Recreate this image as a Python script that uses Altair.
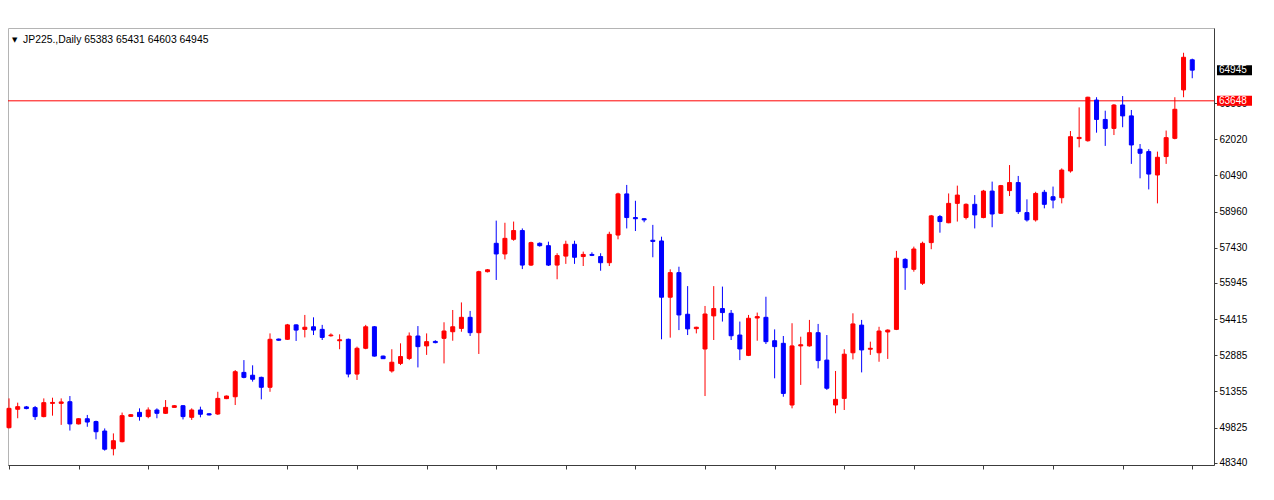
import altair as alt
import pandas as pd

# ---- Daily OHLC values (JP225, 137 sessions) ----
opens = [49820, 50600, 50700, 50670, 50290, 50850, 50850, 50920, 49980, 50200,
         50080, 49680, 48930, 49230, 50300, 50470, 50290, 50570, 50430, 50680,
         50750, 50260, 50570, 50410, 50400, 51050, 51130, 52160, 52040, 51950,
         51530, 53570, 53560, 54170, 53980, 54090, 53980, 53710, 53500, 53560,
         52090, 53180, 54090, 52850, 52220, 52540, 52750, 53700, 53280, 53470,
         53600, 53880, 54020, 54490, 53840, 56420, 57620, 57170, 57790, 58160,
         56700, 57620, 57520, 56700, 57080, 57580, 57060, 57150, 57060, 56800,
         57970, 59710, 58710, 58660, 57750, 57720, 55340, 56380, 54620, 54010,
         53150, 54550, 54860, 54660, 53740, 52880, 54460, 54490, 53500, 53390,
         50780, 53280, 53280, 53840, 52680, 50780, 51060, 52990, 54160, 53140,
         52990, 53870, 53980, 56940, 56520, 55930, 57650, 58750, 58490, 59310,
         58710, 59270, 58710, 59830, 58890, 59850, 60190, 58920, 58610, 59780,
         59590, 59550, 60680, 62050, 61960, 63680, 62860, 62480, 63470, 63010,
         61600, 61500, 60510, 61290, 62060, 64110, 65383]
highs = [51060, 50880, 50740, 50740, 51060, 51090, 51060, 51160, 50220, 50360,
         50120, 49790, 49580, 50460, 50400, 50640, 50680, 50640, 50990, 50780,
         50780, 50640, 50710, 50440, 51340, 51180, 52260, 52680, 52460, 51980,
         53810, 53590, 54210, 54190, 54590, 54490, 54170, 53810, 53770, 53590,
         53250, 54170, 54120, 52870, 53140, 53390, 53850, 54120, 53810, 53520,
         54280, 54800, 55120, 54760, 56460, 56530, 58580, 58490, 58540, 58250,
         57690, 57660, 57690, 57200, 57730, 57730, 57270, 57240, 57200, 58110,
         59760, 60090, 59420, 58680, 58400, 57900, 56520, 56630, 55810, 54090,
         54970, 55810, 55790, 54800, 54310, 54590, 54690, 55360, 53980, 53700,
         54240, 53670, 54380, 54210, 53740, 52220, 53140, 54660, 54380, 53460,
         54090, 53980, 57300, 56990, 57480, 57690, 58820, 58820, 59730, 60060,
         59310, 59660, 59880, 60230, 60090, 60930, 60470, 59480, 59800, 59880,
         60020, 60790, 62370, 63370, 63820, 63800, 63230, 63510, 63850, 63260,
         61820, 61600, 61500, 62390, 63800, 65680, 65431]
lows = [49790, 50220, 50600, 50150, 50260, 50330, 49940, 49700, 49960, 49860,
        49330, 48850, 48650, 49200, 50290, 50120, 50220, 50220, 50400, 50670,
        50170, 50150, 50260, 50340, 50360, 51030, 50780, 51910, 51770, 51020,
        51340, 53500, 53530, 53490, 53640, 53740, 53530, 53670, 53140, 51950,
        51840, 53140, 52830, 52730, 52150, 52470, 52680, 52370, 52900, 53390,
        52540, 53500, 53880, 53700, 52940, 56390, 56070, 56940, 57730, 56530,
        56660, 57480, 56660, 56100, 56750, 56750, 56660, 57080, 56460, 56660,
        57790, 58250, 58140, 58510, 57030, 53560, 53630, 53950, 53740, 53810,
        51160, 53530, 54310, 53530, 52680, 52850, 53500, 53360, 51910, 51130,
        50640, 51630, 53250, 52330, 51420, 50430, 50570, 52710, 52160, 52900,
        52610, 52730, 53950, 55650, 56420, 55860, 57370, 58070, 58470, 58540,
        58630, 58250, 58680, 58300, 58860, 59620, 58860, 58540, 58540, 59100,
        59100, 59310, 60610, 61680, 61920, 62300, 61740, 62200, 62530, 60980,
        60370, 59900, 59310, 60980, 62020, 63800, 64603]
closes = [50640, 50710, 50630, 50290, 50880, 50890, 50910, 49980, 50200, 50060,
          49650, 48910, 49270, 50330, 50370, 50290, 50570, 50430, 50680, 50750,
          50290, 50570, 50390, 50360, 51060, 51160, 52190, 51950, 51870, 51530,
          53560, 53520, 54170, 53950, 54070, 53950, 53640, 53740, 53540, 52090,
          53180, 54090, 52850, 52740, 52590, 52830, 53700, 53250, 53460, 53420,
          53910, 54090, 54490, 53840, 56420, 56500, 57170, 57830, 58160, 56700,
          57650, 57520, 56700, 57100, 57580, 57030, 57150, 57110, 56800, 58000,
          59710, 58710, 58660, 58610, 57700, 55340, 56380, 54590, 54000, 54070,
          54630, 54860, 54690, 53710, 53150, 54450, 54520, 53460, 53250, 51270,
          53280, 53330, 53840, 52660, 51490, 51020, 52930, 54210, 53110, 53180,
          53910, 53950, 56990, 56590, 57380, 57620, 58780, 58540, 59310, 59660,
          59270, 58820, 59830, 58860, 60060, 60190, 58960, 58610, 59730, 59270,
          59450, 60720, 62130, 62100, 63800, 62860, 62480, 63470, 63010, 61780,
          61430, 60550, 61260, 62090, 63290, 65490, 64945]

y_tick_values = [48340, 49825, 51355, 52885, 54415, 55945, 57430, 58960, 60490, 62020, 63550]
x_tick_values = list(range(0, 137, 8))
price_level = 63648
last_price = 64945
header_text = "JP225.,Daily  65383 65431 64603 64945"

df = pd.DataFrame({
    "i": list(range(len(opens))),
    "open": opens, "high": highs, "low": lows, "close": closes,
})
df["dir"] = ["up" if c >= o else "down" for o, c in zip(opens, closes)]

x_scale = alt.Scale(domain=[-0.115, 138.5], nice=False, zero=False, padding=0)
y_scale = alt.Scale(domain=[48243, 66728], nice=False, zero=False, padding=0)
dir_scale = alt.Scale(domain=["up", "down"], range=["#FF0000", "#0000FF"])

x_enc = alt.X("i:Q", scale=x_scale, title=None,
              axis=alt.Axis(values=x_tick_values, labels=False, grid=False, tickSize=4,
                            domainColor="#3c3c3c", tickColor="#3c3c3c", orient="bottom"))
y_enc = alt.Y("low:Q", scale=y_scale, title=None,
              axis=alt.Axis(orient="right", values=y_tick_values, grid=False, tickSize=3,
                            format="d",
                            labelFont="Liberation Sans", labelFontSize=10, labelColor="#000000",
                            domainColor="#3c3c3c", tickColor="#3c3c3c", labelPadding=2,
                            labelOverlap=False))

wicks = alt.Chart(df).mark_rule(strokeWidth=1).encode(
    x=x_enc, y=y_enc, y2="high:Q",
    color=alt.Color("dir:N", scale=dir_scale, legend=None),
)
bodies = alt.Chart(df).mark_bar(size=4, strokeWidth=1).encode(
    x=alt.X("i:Q", scale=x_scale),
    y=alt.Y("open:Q", scale=y_scale),
    y2="close:Q",
    color=alt.Color("dir:N", scale=dir_scale, legend=None),
    stroke=alt.Stroke("dir:N", scale=dir_scale, legend=None),
)

level_df = pd.DataFrame({"price": [price_level]})
level_line = alt.Chart(level_df).mark_rule(color="#FF0000", strokeWidth=1).encode(
    y=alt.Y("price:Q", scale=y_scale)
)

tags_df = pd.DataFrame({
    "price": [last_price, price_level],
    "label": [str(last_price), str(price_level)],
    "bg": ["#000000", "#FF0000"],
})
tag_boxes = alt.Chart(tags_df).mark_rect(yOffset=-5, y2Offset=5).encode(
    x=alt.value(1209), x2=alt.value(1244),
    y=alt.Y("price:Q", scale=y_scale), y2="price:Q",
    fill=alt.Fill("bg:N", scale=None),
)
tag_text = alt.Chart(tags_df).mark_text(
    align="left", baseline="middle", color="#FFFFFF",
    font="Liberation Sans", fontSize=10,
).encode(
    x=alt.value(1211), y=alt.Y("price:Q", scale=y_scale), text="label:N"
)

header_df = pd.DataFrame({"t": [header_text]})
header = alt.Chart(header_df).mark_text(
    align="left", baseline="middle", font="Liberation Sans", fontSize=10.4, color="#000000"
).encode(x=alt.value(15), y=alt.value(12), text="t:N")
arrow = alt.Chart(pd.DataFrame({"t": ["▼"]})).mark_text(
    align="left", baseline="middle", font="DejaVu Sans", fontSize=7, color="#000000"
).encode(x=alt.value(4), y=alt.value(12), text="t:N")

chart = alt.layer(level_line, wicks, bodies, tag_boxes, tag_text, header, arrow).properties(
    width=1206, height=437,
    autosize=alt.AutoSizeParams(type="none"),
    padding={"left": 8, "top": 28, "right": 60, "bottom": 35},
    background="#FFFFFF",
).configure_view(stroke="#b4b4b4", strokeWidth=1)

chart.save("out.html", embed_options={"renderer": "svg", "actions": False})
